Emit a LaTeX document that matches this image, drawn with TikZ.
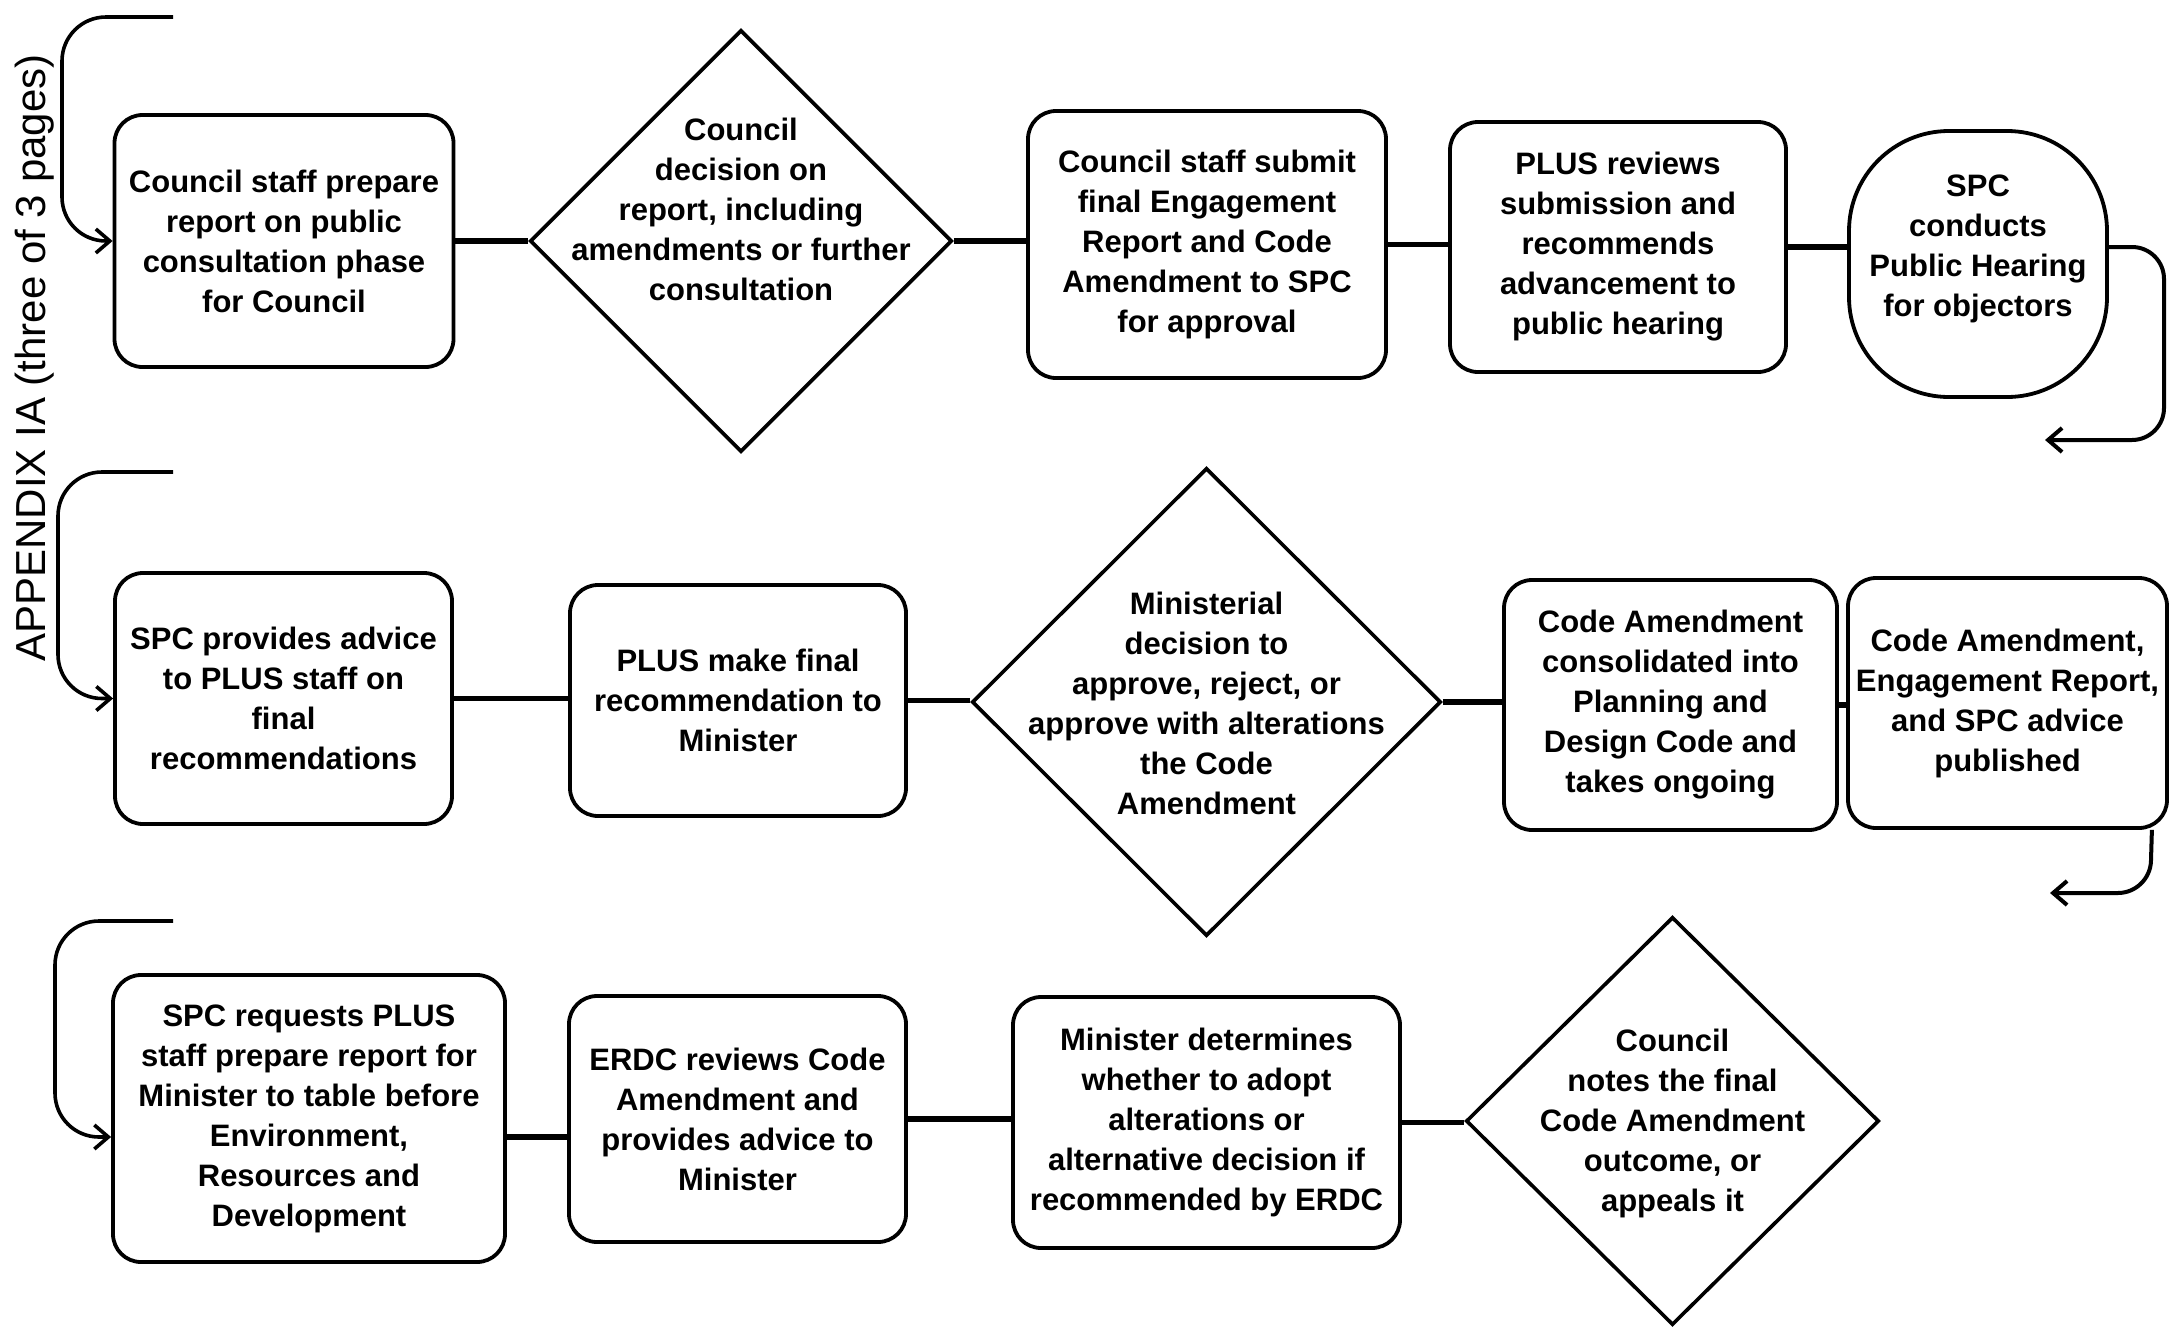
\documentclass[tikz,border=0pt]{standalone}
\usepackage{fontspec}
\setmainfont{Liberation Sans}
\usetikzlibrary{shapes.geometric,arrows.meta,calc}
\tikzset{
  lbl/.style={align=center, font=\bfseries\fontsize{15.5}{20}\selectfont},
  box/.style={lbl, draw, line width=1.9pt, rounded corners=14pt, inner sep=0pt},
  dia/.style={draw, diamond, line width=1.8pt, inner sep=0pt},
  conn/.style={line width=2.9pt},
  bracket/.style={line width=1.8pt, rounded corners=12pt, -{Straight Barb[length=7pt,width=12pt]}},
}
\begin{document}
\begin{tikzpicture}[x=0.5pt,y=-0.5pt]
\useasboundingbox (0,0) rectangle (2169,1328);
\fill[white] (0,0) rectangle (2169,1328);

% Row 1
\node[box, minimum width=169.5pt, minimum height=126pt] (A) at (284,241)
  {Council staff prepare\\report on public\\consultation phase\\for Council};
\node[dia, minimum width=211pt, minimum height=211pt] (B) at (741,241) {};
\node[lbl] (Bt) at (741,209) {Council\\decision on\\report, including\\amendments or further\\consultation};
\node[box, minimum width=179pt, minimum height=133.5pt] (C) at (1207,244.5)
  {Council staff submit\\final Engagement\\Report and Code\\Amendment to SPC\\for approval};
\node[box, minimum width=168pt, minimum height=125pt] (D) at (1618,247)
  {PLUS reviews\\submission and\\recommends\\advancement to\\public hearing};
\node[draw, line width=1.9pt, rounded corners=50pt, minimum width=129pt, minimum height=133pt, inner sep=0pt] (E) at (1978,264) {};
\node[lbl] (Et) at (1978,249) {SPC\\conducts\\Public Hearing\\for objectors};

% Row 2
\node[box, minimum width=168.5pt, minimum height=125.5pt] (F) at (283.5,698.5)
  {SPC provides advice\\to PLUS staff on\\final\\recommendations};
\node[box, minimum width=168pt, minimum height=115.5pt] (G) at (738,700.5)
  {PLUS make final\\recommendation to\\Minister};
\node[dia, minimum width=234.5pt, minimum height=234pt] (H) at (1206.5,702) {};
\node[lbl] (Ht) at (1206.5,703) {Ministerial\\decision to\\approve, reject, or\\approve with alterations\\the Code\\Amendment};
\node[box, minimum width=166.5pt, minimum height=125pt] (I) at (1670.5,705)
  {Code Amendment\\consolidated into\\Planning and\\Design Code and\\takes ongoing};
\node[box, minimum width=159.5pt, minimum height=125pt] (J) at (2007.5,703)
  {Code Amendment,\\Engagement Report,\\and SPC advice\\published};

% Row 3
\node[box, minimum width=196pt, minimum height=143.5pt] (K) at (309,1118.5)
  {SPC requests PLUS\\staff prepare report for\\Minister to table before\\Environment,\\Resources and\\Development};
\node[box, minimum width=168.5pt, minimum height=123pt] (L) at (737.5,1119)
  {ERDC reviews Code\\Amendment and\\provides advice to\\Minister};
\node[box, minimum width=193.5pt, minimum height=125.5pt] (M) at (1206.5,1122.5)
  {Minister determines\\whether to adopt\\alterations or\\alternative decision if\\recommended by ERDC};
\node[dia, minimum width=206.5pt, minimum height=204pt] (N) at (1672.5,1121) {};
\node[lbl] (Nt) at (1672.5,1123) {Council\\notes the final\\Code Amendment\\outcome, or\\appeals it};

% handwritten note
\node[rotate=90, font=\fontsize{21}{21}\selectfont] (app) at (35,358) {APPENDIX IA (three of 3 pages)};

% connectors row 1
\draw[conn] (A.east) -- (B.west);
\draw[conn] (B.east) -- (B.east -| C.west);
\draw[conn] (C.east) -- (C.east -| D.west);
\draw[conn] (D.east) -- (D.east -| E.west);
\coordinate (r1) at (2045,440);
\draw[bracket, line width=2pt, rounded corners=16pt] (D.east -| E.east) -- (2164,247) -- (2164,440) -- (r1);

% connectors row 2
\draw[conn] (F.east) -- (F.east -| G.west);
\draw[conn] (G.east) -- (G.east -| H.west);
\draw[conn] (H.east) -- (H.east -| I.west);
\draw[conn] (I.east) -- (I.east -| J.west);
\coordinate (r2) at (2050,893);
\draw[bracket, line width=2pt, rounded corners=16pt] ($(J.south east)+(-17,0)$) -- (2150,893) -- (r2);

% connectors row 3
\draw[conn] (K.east |- 0,1137) -- (L.west |- 0,1137);
\draw[conn] (L.east) -- (L.east -| M.west);
\draw[conn] (M.east) -- (M.east -| N.west);

% left brackets
\coordinate (t1) at (173,17);
\coordinate (v1) at (62,17);
\draw[bracket, rounded corners=22pt] (t1) -- (v1) -- (v1 |- A.west) -- (A.west);
\coordinate (t2) at (173,472);
\coordinate (v2) at (58,472);
\draw[bracket, rounded corners=22pt] (t2) -- (v2) -- (v2 |- F.west) -- (F.west);
\coordinate (t3) at (173,921);
\coordinate (v3) at (55,921);
\draw[bracket, rounded corners=22pt] (t3) -- (v3) -- (55,1137) -- (K.west |- 0,1137);
\end{tikzpicture}
\end{document}
